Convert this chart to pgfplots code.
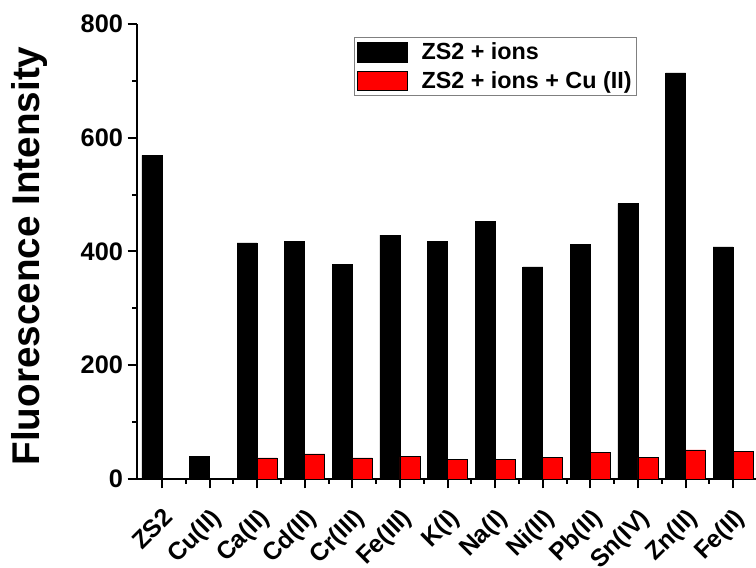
\documentclass[border=0pt]{standalone}
\usepackage{fontspec}
\setmainfont{Liberation Sans}
\usepackage{pgfplots}
\pgfplotsset{compat=1.18}
\begin{document}
\begin{tikzpicture}
\useasboundingbox (0,0) rectangle (567pt,425.25pt);
\begin{axis}[
  at={(102.75pt,66pt)}, anchor=south west,
  scale only axis, width=464.25pt, height=341.25pt,
  axis lines=left, axis line style={-, line width=1.5pt},
  xmin=-0.525, xmax=12.48, ymin=0, ymax=800,
  ybar=0pt, bar width=15pt,
  xtick={0,...,12},
  xticklabels={ZS2,Cu(II),Ca(II),Cd(II),Cr(III),Fe(III),K(I),Na(I),Ni(II),Pb(II),Sn(IV),Zn(II),Fe(II)},
  ytick={0,200,400,600,800},
  minor x tick num=1, minor y tick num=1,
  tick align=outside,
  major tick length=7pt, minor tick length=3.5pt,
  every tick/.style={black, line width=1.5pt},
  /pgf/number format/assume math mode=true,
  yticklabel style={font=\fontsize{19}{21}\selectfont\bfseries},
  xticklabel style={font=\fontsize{18.5}{20}\selectfont\bfseries, rotate=45, anchor=north east, inner sep=1pt},
  xticklabel shift=12pt,
  ylabel={Fluorescence Intensity},
  ylabel style={font=\fontsize{29}{32}\selectfont\bfseries, at={(axis description cs:-0.173,0.49)}, anchor=center},
  legend style={at={(axis description cs:0.3506,0.971)}, anchor=north west, draw=gray, line width=0.75pt,
    font=\fontsize{17.5}{20}\selectfont\bfseries, row sep=3pt, inner xsep=2pt, inner ysep=2pt, cells={anchor=west}},
]
\addplot[fill=black, draw=black, line width=0.5pt,
  legend image code/.code={\path[draw=none, fill=none] (0pt,0pt) -- (46pt,0pt); \fill[black] (0pt,-7.25pt) rectangle (37.5pt,7.25pt);}]
  coordinates {(0,569) (1,39) (2,415) (3,417) (4,378) (5,429) (6,417) (7,453) (8,373) (9,413) (10,484) (11,714) (12,408)};
\addlegendentry{ZS2 + ions}
\addplot[fill=red, draw=black, line width=0.6pt,
  legend image code/.code={\path[draw=none, fill=none] (0pt,0pt) -- (46pt,0pt); \draw[fill=red, draw=black, line width=0.5pt] (0pt,-7.25pt) rectangle (37.5pt,7.25pt);}]
  coordinates {(2,37) (3,44) (4,37) (5,39) (6,35) (7,35) (8,38) (9,46) (10,38) (11,51) (12,48)};
\addlegendentry{ZS2 + ions + Cu (II)}
\end{axis}
\end{tikzpicture}
\end{document}
